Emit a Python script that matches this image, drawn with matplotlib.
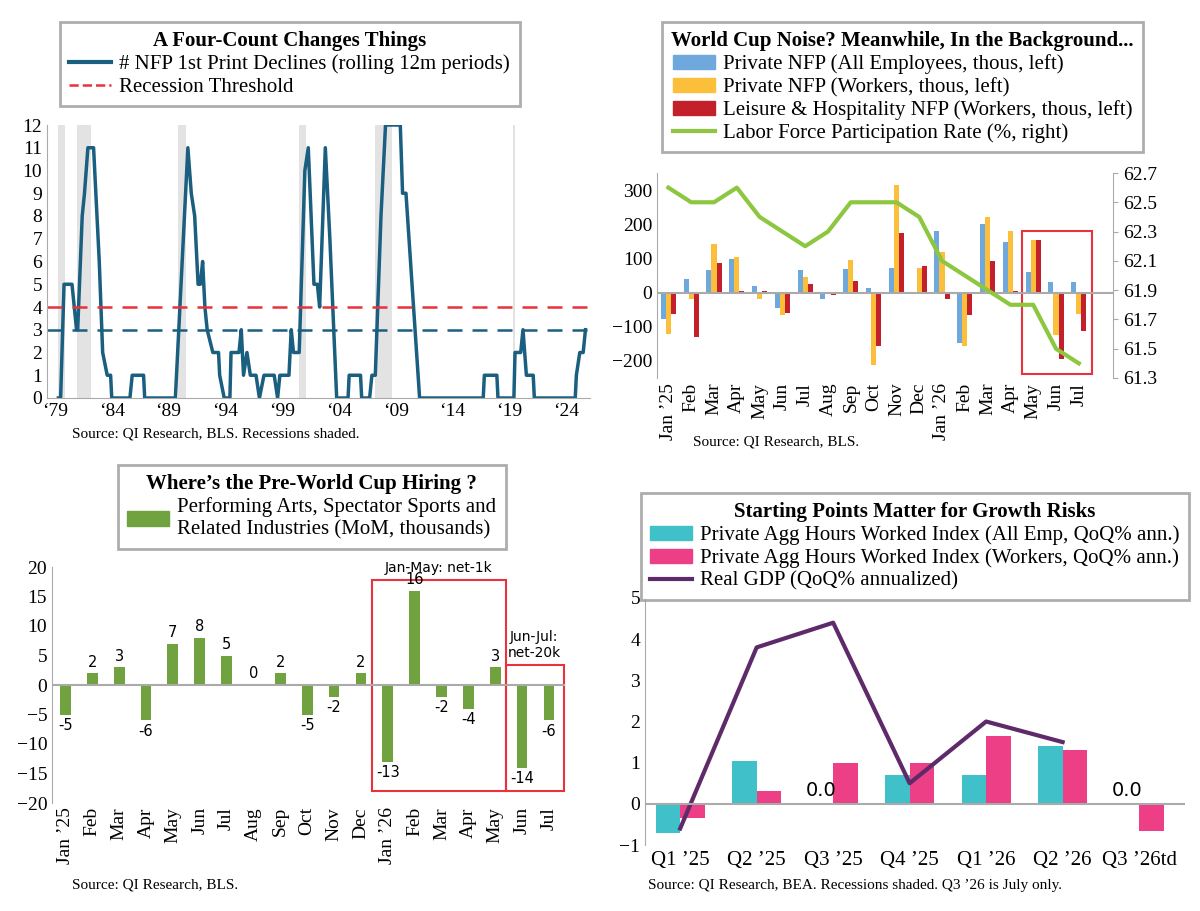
import matplotlib
matplotlib.use("Agg")
import matplotlib.pyplot as plt
from matplotlib.patches import Rectangle, Patch
from matplotlib.lines import Line2D

plt.rcParams['font.family'] = ['Liberation Serif', 'DejaVu Serif']

# ---- Panel 1 data ----
p1_years = [1979.3,1979.5,1979.8,1980.5,1980.7,1980.9,1981.0,1981.4,1981.6,1981.9,1982.4,1982.5,1982.9,1983.2,1983.6,1983.9,1984.0,
            1985.6,1985.8,1986.8,1986.9,1989.6,1990.7,1991.0,1991.3,1991.6,1991.8,1992.0,1992.2,1992.4,1992.9,1993.4,1993.5,1993.9,
            1994.4,1994.5,1995.2,1995.4,1995.6,1995.9,1996.2,1996.7,1997.0,1997.4,1998.3,1998.6,1998.8,1999.6,1999.8,2000.0,2000.5,
            2001.0,2001.3,2001.8,2002.1,2002.3,2002.8,2003.2,2003.8,2004.8,2004.9,2005.9,2006.0,2006.7,2006.9,2007.2,2007.7,2008.1,
            2009.4,2009.6,2009.9,2011.1,2016.7,2016.8,2017.9,2018.0,2019.4,2019.5,2020.0,2020.2,2020.5,2021.1,2021.2,2024.8,2024.9,
            2025.2,2025.5,2025.7]
p1_vals = [0,0,5,5,4,3,3,8,9,11,11,10,6,2,1,1,0,
           0,1,1,0,0,11,9,8,5,5,6,4,3,2,2,1,0,
           0,2,2,3,1,2,1,1,0,1,1,0,1,1,3,2,2,
           10,11,5,5,4,11,7,0,0,1,1,0,0,1,1,8,12,
           12,9,9,0,0,1,1,0,0,2,2,3,1,1,0,0,1,
           2,2,3]
recessions = [(1979.3,1979.9),(1980.9,1982.2),(1989.8,1990.5),(2000.5,2001.1),(2007.2,2008.7),(2019.3,2019.5)]
p1_xticks = [1979,1984,1989,1994,1999,2004,2009,2014,2019,2024]
p1_xlabels = ["‘79","‘84","‘89","‘94","‘99","‘04","‘09","‘14","‘19","‘24"]

# ---- Panel 2 data ----
p2_months = ["Jan ’25","Feb","Mar","Apr","May","Jun","Jul","Aug","Sep","Oct","Nov","Dec",
             "Jan ’26","Feb","Mar","Apr","May","Jun","Jul"]
p2_all = [-76,40,66,98,19,-46,65,-20,68,12,72,-5,180,-148,202,149,60,30,30]
p2_workers = [-120,-18,142,103,-18,-67,47,0,95,-212,315,72,120,-157,222,180,155,-125,-62]
p2_leisure = [-63,-130,88,5,4,-59,25,-7,33,-155,175,77,-18,-67,93,6,155,-195,-112]
p2_lfpr = [62.6,62.5,62.5,62.6,62.4,62.3,62.2,62.3,62.5,62.5,62.5,62.4,62.1,62.0,61.9,61.8,61.8,61.5,61.4]

# ---- Panel 3 data ----
p3_months = ["Jan ’25","Feb","Mar","Apr","May","Jun","Jul","Aug","Sep","Oct","Nov","Dec",
             "Jan ’26","Feb","Mar","Apr","May","Jun","Jul"]
p3_vals = [-5,2,3,-6,7,8,5,0,2,-5,-2,2,-13,16,-2,-4,3,-14,-6]

# ---- Panel 4 data ----
p4_q = ["Q1 ’25","Q2 ’25","Q3 ’25","Q4 ’25","Q1 ’26","Q2 ’26","Q3 ’26td"]
p4_all = [-0.7,1.05,0.0,0.7,0.7,1.4,0.0]
p4_workers = [-0.35,0.3,1.0,1.0,1.65,1.3,-0.65]
p4_gdp = [-0.6,3.8,4.4,0.5,2.0,1.5]

W, H = 1200, 911
fig = plt.figure(figsize=(12, 9.11), dpi=100)

def ax_px(l, t, r, b):
    return fig.add_axes([l / W, 1 - b / H, (r - l) / W, (b - t) / H])

def legend_box(handles, labels, title, x, y, fs=15, **kw):
    lg = fig.legend(handles, labels, title=title, loc='upper left',
                    bbox_to_anchor=(x / W, 1 - y / H), fontsize=fs,
                    title_fontproperties={'weight': 'bold', 'size': fs},
                    frameon=True, fancybox=False, edgecolor='#999999',
                    borderpad=0.45, labelspacing=0.15, handletextpad=0.4,
                    borderaxespad=0, **kw)
    lg.get_frame().set_linewidth(2)
    return lg

GRAY = '#aaaaaa'
def style(ax):
    for s in ['top', 'right']:
        ax.spines[s].set_visible(False)
    for s in ['left', 'bottom']:
        ax.spines[s].set_color(GRAY)
    ax.tick_params(colors=GRAY, labelcolor='black', labelsize=13)

# ---- Panel 1 ----
TEAL = '#1a5e80'
ax1 = ax_px(47, 125, 590, 398)
style(ax1)
for a, b in recessions:
    ax1.axvspan(a, b, color='#e3e3e3', lw=0)
ax1.plot(p1_years, p1_vals, color=TEAL, lw=2.5)
ax1.axhline(4, color='#e8323c', ls='--', lw=1.8, dashes=(6, 4))
ax1.axhline(3, color=TEAL, ls='--', lw=1.8, dashes=(6, 4))
ax1.set_xlim(1978.3, 2026.1)
ax1.set_ylim(0, 12)
ax1.set_yticks(range(13))
ax1.set_xticks(p1_xticks)
ax1.set_xticklabels(p1_xlabels)
ax1.tick_params(axis='y', labelsize=14, length=0)
ax1.tick_params(axis='x', labelsize=14, length=0)
legend_box([Line2D([], [], color=TEAL, lw=3), Line2D([], [], color='#e8323c', ls='--', lw=1.8)],
           ["# NFP 1st Print Declines (rolling 12m periods)", "Recession Threshold"],
           "A Four-Count Changes Things", 60, 22)
fig.text(72 / W, 1 - 434 / H, "Source: QI Research, BLS. Recessions shaded.", fontsize=11, va='center')

# ---- Panel 2 ----
BLUE, ORANGE, RED, GREEN = '#6fa8dc', '#fbbf3c', '#c3202b', '#8dc63f'
ax2 = ax_px(657, 173, 1113, 378)
style(ax2)
ax2.spines['bottom'].set_visible(False)
xs = list(range(len(p2_months)))
w = 0.22
ax2.bar([x - w for x in xs], p2_all, w, color=BLUE)
ax2.bar(xs, p2_workers, w, color=ORANGE)
ax2.bar([x + w for x in xs], p2_leisure, w, color=RED)
ax2.axhline(0, color=GRAY, lw=1.5)
ax2.set_xlim(-0.5, 19.5)
ax2.set_ylim(-250, 350)
ax2.set_yticks([-200, -100, 0, 100, 200, 300])
ax2.set_xticks(xs)
ax2.set_xticklabels(p2_months, rotation=90)
ax2.tick_params(axis='x', length=0, labelsize=14)
ax2.tick_params(axis='y', length=0, labelsize=14)
ax2.add_patch(Rectangle((15.5, -239), 3.1, 420, fill=False, ec='#e8323c', lw=1.5))
ax2b = ax2.twinx()
ax2b.plot(xs, p2_lfpr, color=GREEN, lw=3)
ax2b.set_ylim(61.3, 62.7)
ax2b.set_yticks([61.3, 61.5, 61.7, 61.9, 62.1, 62.3, 62.5, 62.7])
for s in ['top', 'left', 'bottom']:
    ax2b.spines[s].set_visible(False)
ax2b.spines['right'].set_color(GRAY)
ax2b.tick_params(colors=GRAY, labelcolor='black', labelsize=14)
legend_box([Patch(color=BLUE), Patch(color=ORANGE), Patch(color=RED), Line2D([], [], color=GREEN, lw=3)],
           ["Private NFP (All Employees, thous, left)", "Private NFP (Workers, thous, left)",
            "Leisure & Hospitality NFP (Workers, thous, left)", "Labor Force Participation Rate (%, right)"],
           "World Cup Noise? Meanwhile, In the Background...", 662, 22)
fig.text(693 / W, 1 - 442 / H, "Source: QI Research, BLS.", fontsize=11, va='center')

# ---- Panel 3 ----
G3 = '#70a33f'
ax3 = ax_px(52, 567, 565, 803)
style(ax3)
ax3.spines['bottom'].set_visible(False)
xs3 = list(range(len(p3_vals)))
ax3.bar(xs3, p3_vals, 0.4, color=G3)
ax3.axhline(0, color=GRAY, lw=1.5)
for x, v in zip(xs3, p3_vals):
    if v >= 0:
        ax3.text(x, v + 0.6, str(v), ha='center', va='bottom', fontsize=10.5, family='DejaVu Sans')
    else:
        ax3.text(x, v - 0.6, str(v), ha='center', va='top', fontsize=10.5, family='DejaVu Sans')
ax3.set_xlim(-0.5, 18.6)
ax3.set_ylim(-20, 20)
ax3.set_yticks(range(-20, 21, 5))
ax3.set_xticks(xs3)
ax3.set_xticklabels(p3_months, rotation=90)
ax3.tick_params(axis='x', length=0, labelsize=14, pad=3)
ax3.tick_params(axis='y', length=0, labelsize=14)
ax3.add_patch(Rectangle((11.4, -18), 5.0, 35.8, fill=False, ec='#e8323c', lw=1.5, clip_on=False))
ax3.add_patch(Rectangle((16.4, -18), 2.15, 21.4, fill=False, ec='#e8323c', lw=1.5, clip_on=False))
ax3.text(13.9, 18.6, "Jan-May: net-1k", ha='center', va='bottom', fontsize=10, family='DejaVu Sans')
ax3.text(17.45, 4.2, "Jun-Jul:\nnet-20k", ha='center', va='bottom', fontsize=10, family='DejaVu Sans')
legend_box([Patch(color=G3)],
           ["Performing Arts, Spectator Sports and\nRelated Industries (MoM, thousands)"],
           "Where’s the Pre-World Cup Hiring ?", 118, 465)
fig.text(72 / W, 1 - 885 / H, "Source: QI Research, BLS.", fontsize=11, va='center')

# ---- Panel 4 ----
CYAN, PINK, PURPLE = '#40c0c8', '#ec3f86', '#5e2a6a'
ax4 = ax_px(645, 598, 1185, 845)
style(ax4)
ax4.spines['bottom'].set_visible(False)
xs4 = list(range(len(p4_q)))
bw = 0.32
ax4.bar([x - bw / 2 for x in xs4], p4_all, bw, color=CYAN)
ax4.bar([x + bw / 2 for x in xs4], p4_workers, bw, color=PINK)
ax4.plot(list(range(len(p4_gdp))), p4_gdp, color=PURPLE, lw=3)
ax4.axhline(0, color=GRAY, lw=1.5)
for x, v in zip(xs4, p4_all):
    if v == 0:
        ax4.text(x - bw / 2, 0.1, "0.0", ha='center', va='bottom', fontsize=14, family='DejaVu Sans')
ax4.set_xlim(-0.46, 6.6)
ax4.set_ylim(-1, 5)
ax4.set_xticks(xs4)
ax4.set_xticklabels(p4_q)
ax4.tick_params(axis='x', length=0, labelsize=15, pad=4)
ax4.tick_params(axis='y', length=0, labelsize=14)
legend_box([Patch(color=CYAN), Patch(color=PINK), Line2D([], [], color=PURPLE, lw=3)],
           ["Private Agg Hours Worked Index (All Emp, QoQ% ann.)",
            "Private Agg Hours Worked Index (Workers, QoQ% ann.)",
            "Real GDP (QoQ% annualized)"],
           "Starting Points Matter for Growth Risks", 641, 493)
fig.text(648 / W, 1 - 886 / H, "Source: QI Research, BEA. Recessions shaded. Q3 ’26 is July only.", fontsize=11, va='center')

fig.savefig("out.png", dpi=100)
